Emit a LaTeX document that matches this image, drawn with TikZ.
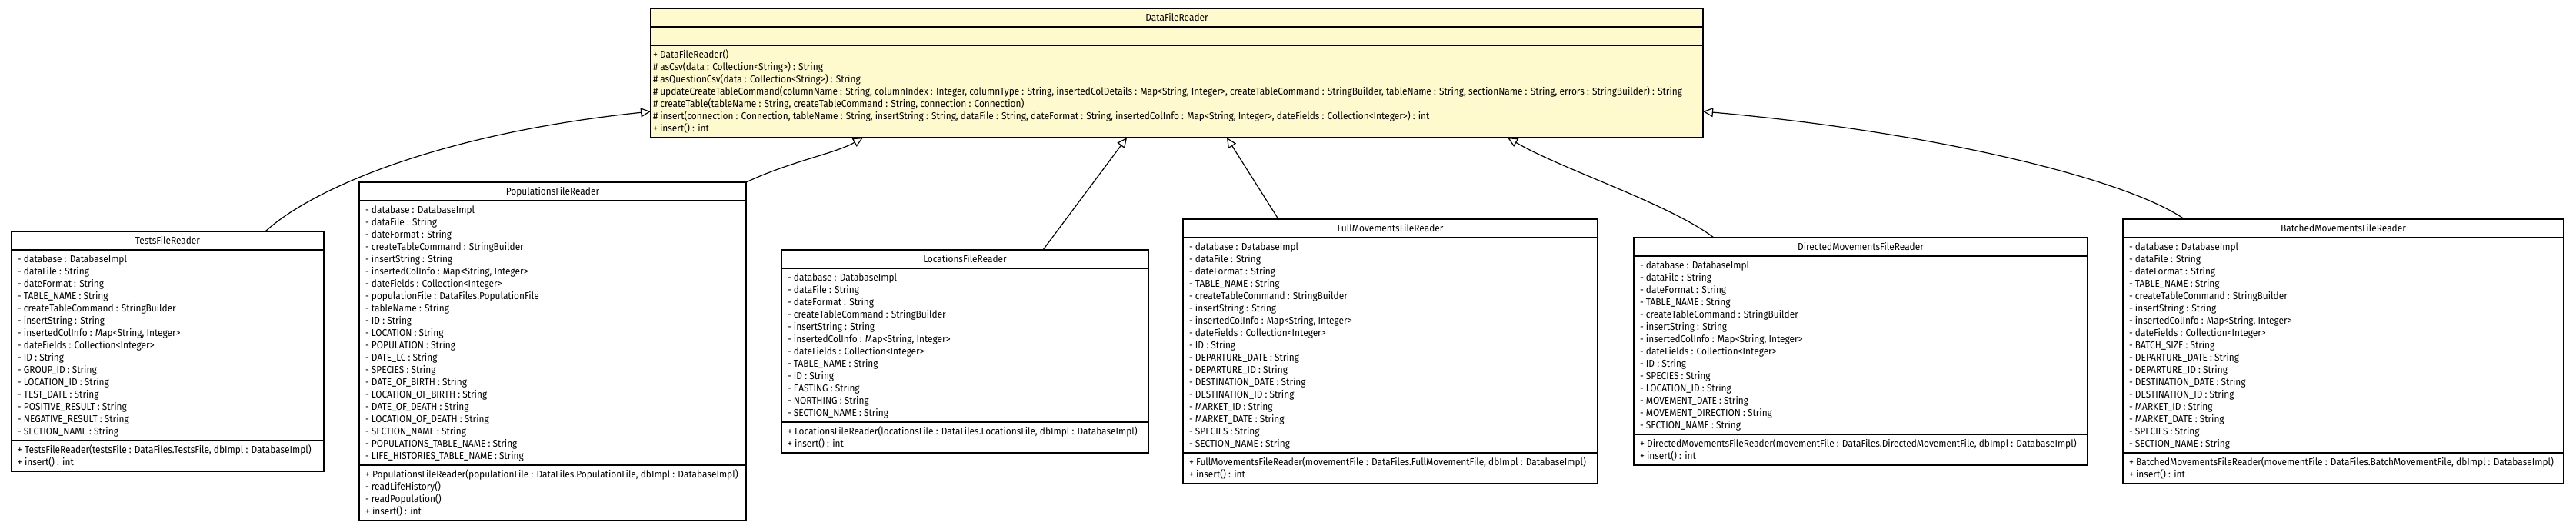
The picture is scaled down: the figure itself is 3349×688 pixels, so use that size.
\documentclass[tikz,border=0pt]{standalone}
\usepackage{fontspec}
\setmainfont{Fira Sans}[FakeStretch=0.915]
\usetikzlibrary{arrows.meta}
\definecolor{dfrfill}{HTML}{FFFACD}
\tikzset{
  classbox/.style={draw=black, line width=1.6pt, inner sep=0pt, outer sep=0pt, anchor=north west},
  sepline/.style={line width=1.6pt},
  umltext/.style={inner sep=0pt, outer sep=0pt, align=left, anchor=north west, font=\fontsize{13}{16}\selectfont},
  umltitle/.style={inner sep=0pt, outer sep=0pt, anchor=base, font=\fontsize{13}{16}\selectfont},
  inherit/.style={line width=1.2pt, -{Triangle[open, length=13pt, width=12pt, line width=1.2pt]}},
}
\def\curfill{white}
\def\curinset{8}
% #1 name, #2 x, #3 y, #4 width, #5 attr section height, #6 method section height, #7 title, #8 attrs, #9 methods
\newcommand\umlclass[9]{%
  \pgfmathsetmacro\totH{24+#5+#6}%
  \pgfmathsetmacro\sepB{24+#5}%
  \pgfmathsetmacro\methTop{24+#5+5.5}%
  \node[classbox, fill=\curfill, minimum width=#4pt, minimum height=\totH pt] (#1) at (#2,#3) {};
  \draw[sepline] ([yshift=-24pt]#1.north west) -- ([yshift=-24pt]#1.north east);
  \draw[sepline] ([yshift=-\sepB pt]#1.north west) -- ([yshift=-\sepB pt]#1.north east);
  \node[umltitle] (#1-title) at ([yshift=-16.5pt]#1.north) {#7};
  \if\relax\detokenize{#8}\relax\else
    \node[umltext] (#1-attrs) at ([xshift=\curinset pt, yshift=-29.5pt]#1.north west) {\rule{0pt}{11pt}#8};
  \fi
  \node[umltext] (#1-meths) at ([xshift=\curinset pt, yshift=-\methTop pt]#1.north west) {\rule{0pt}{11pt}#9};
}
\begin{document}
\begin{tikzpicture}[x=1pt, y=-1pt]
\useasboundingbox (0,0) rectangle (3349,688);

\def\curfill{dfrfill}\def\curinset{3}
\umlclass{dfr}{846}{11}{1368}{24}{120}{DataFileReader}{}{%
+ DataFileReader()\\
\# asCsv(data : Collection<String>) : String\\
\# asQuestionCsv(data : Collection<String>) : String\\
\# updateCreateTableCommand(columnName : String, columnIndex : Integer, columnType : String, insertedColDetails : Map<String, Integer>, createTableCommand : StringBuilder, tableName : String, sectionName : String, errors : StringBuilder) : String\\
\# createTable(tableName : String, createTableCommand : String, connection : Connection)\\
\# insert(connection : Connection, tableName : String, insertString : String, dataFile : String, dateFormat : String, insertedColInfo : Map<String, Integer>, dateFields : Collection<Integer>) : int\\
+ insert() : int}

\def\curfill{white}\def\curinset{8}
\umlclass{tests}{15}{301}{406}{248}{40}{TestsFileReader}{%
- database : DatabaseImpl\\
- dataFile : String\\
- dateFormat : String\\
- TABLE\_NAME : String\\
- createTableCommand : StringBuilder\\
- insertString : String\\
- insertedColInfo : Map<String, Integer>\\
- dateFields : Collection<Integer>\\
- ID : String\\
- GROUP\_ID : String\\
- LOCATION\_ID : String\\
- TEST\_DATE : String\\
- POSITIVE\_RESULT : String\\
- NEGATIVE\_RESULT : String\\
- SECTION\_NAME : String}{%
+ TestsFileReader(testsFile : DataFiles.TestsFile, dbImpl : DatabaseImpl)\\
+ insert() : int}

\umlclass{pop}{467}{237}{503}{344}{72}{PopulationsFileReader}{%
- database : DatabaseImpl\\
- dataFile : String\\
- dateFormat : String\\
- createTableCommand : StringBuilder\\
- insertString : String\\
- insertedColInfo : Map<String, Integer>\\
- dateFields : Collection<Integer>\\
- populationFile : DataFiles.PopulationFile\\
- tableName : String\\
- ID : String\\
- LOCATION : String\\
- POPULATION : String\\
- DATE\_LC : String\\
- SPECIES : String\\
- DATE\_OF\_BIRTH : String\\
- LOCATION\_OF\_BIRTH : String\\
- DATE\_OF\_DEATH : String\\
- LOCATION\_OF\_DEATH : String\\
- SECTION\_NAME : String\\
- POPULATIONS\_TABLE\_NAME : String\\
- LIFE\_HISTORIES\_TABLE\_NAME : String}{%
+ PopulationsFileReader(populationFile : DataFiles.PopulationFile, dbImpl : DatabaseImpl)\\
- readLifeHistory()\\
- readPopulation()\\
+ insert() : int}

\umlclass{loc}{1016}{325}{477}{200}{40}{LocationsFileReader}{%
- database : DatabaseImpl\\
- dataFile : String\\
- dateFormat : String\\
- createTableCommand : StringBuilder\\
- insertString : String\\
- insertedColInfo : Map<String, Integer>\\
- dateFields : Collection<Integer>\\
- TABLE\_NAME : String\\
- ID : String\\
- EASTING : String\\
- NORTHING : String\\
- SECTION\_NAME : String}{%
+ LocationsFileReader(locationsFile : DataFiles.LocationsFile, dbImpl : DatabaseImpl)\\
+ insert() : int}

\umlclass{full}{1538}{285}{539}{280}{40}{FullMovementsFileReader}{%
- database : DatabaseImpl\\
- dataFile : String\\
- dateFormat : String\\
- TABLE\_NAME : String\\
- createTableCommand : StringBuilder\\
- insertString : String\\
- insertedColInfo : Map<String, Integer>\\
- dateFields : Collection<Integer>\\
- ID : String\\
- DEPARTURE\_DATE : String\\
- DEPARTURE\_ID : String\\
- DESTINATION\_DATE : String\\
- DESTINATION\_ID : String\\
- MARKET\_ID : String\\
- MARKET\_DATE : String\\
- SPECIES : String\\
- SECTION\_NAME : String}{%
+ FullMovementsFileReader(movementFile : DataFiles.FullMovementFile, dbImpl : DatabaseImpl)\\
+ insert() : int}

\umlclass{dir}{2124}{309}{590}{232}{40}{DirectedMovementsFileReader}{%
- database : DatabaseImpl\\
- dataFile : String\\
- dateFormat : String\\
- TABLE\_NAME : String\\
- createTableCommand : StringBuilder\\
- insertString : String\\
- insertedColInfo : Map<String, Integer>\\
- dateFields : Collection<Integer>\\
- ID : String\\
- SPECIES : String\\
- LOCATION\_ID : String\\
- MOVEMENT\_DATE : String\\
- MOVEMENT\_DIRECTION : String\\
- SECTION\_NAME : String}{%
+ DirectedMovementsFileReader(movementFile : DataFiles.DirectedMovementFile, dbImpl : DatabaseImpl)\\
+ insert() : int}

\umlclass{bat}{2760}{285}{573}{280}{40}{BatchedMovementsFileReader}{%
- database : DatabaseImpl\\
- dataFile : String\\
- dateFormat : String\\
- TABLE\_NAME : String\\
- createTableCommand : StringBuilder\\
- insertString : String\\
- insertedColInfo : Map<String, Integer>\\
- dateFields : Collection<Integer>\\
- BATCH\_SIZE : String\\
- DEPARTURE\_DATE : String\\
- DEPARTURE\_ID : String\\
- DESTINATION\_DATE : String\\
- DESTINATION\_ID : String\\
- MARKET\_ID : String\\
- MARKET\_DATE : String\\
- SPECIES : String\\
- SECTION\_NAME : String}{%
+ BatchedMovementsFileReader(movementFile : DataFiles.BatchMovementFile, dbImpl : DatabaseImpl)\\
+ insert() : int}

% inheritance connectors
\draw[inherit] ([xshift=330pt]tests.north west) .. controls +(55,-51) and +(-286,30) .. ([yshift=-134pt]dfr.north west);
\draw[inherit] (pop.north east) .. controls +(60,-28) and +(-37,21) .. ([xshift=276pt]dfr.south west);
\draw[inherit] ([xshift=340pt]loc.north west) -- ([xshift=619pt]dfr.south west);
\draw[inherit] ([xshift=124pt]full.north west) -- ([xshift=749pt]dfr.south west);
\draw[inherit] ([xshift=104pt]dir.north west) .. controls +(-58,-44) and +(70,41) .. ([xshift=1114pt]dfr.south west);
\draw[inherit] ([xshift=80pt]bat.north west) .. controls +(-80,-55) and +(286,25) .. ([yshift=-134pt]dfr.north east);
\end{tikzpicture}
\end{document}
